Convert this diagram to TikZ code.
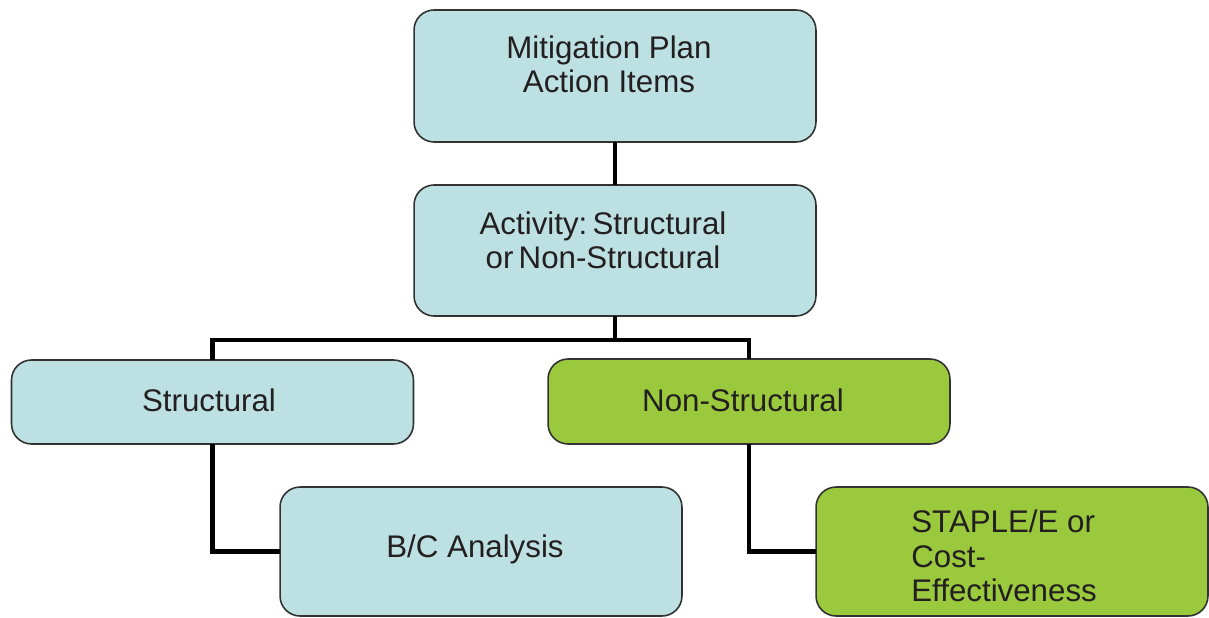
\documentclass[tikz,border=0pt]{standalone}
\usepackage{fontspec}
\setmainfont{Liberation Sans}
\usepackage{tikz}
\usetikzlibrary{positioning, calc}

\definecolor{paleblue}{RGB}{189,224,227}
\definecolor{leafgreen}{RGB}{154,201,61}
\definecolor{edgegray}{RGB}{50,50,50}
\definecolor{inkblack}{RGB}{35,31,32}

\begin{document}
\begin{tikzpicture}[
    x=0.02cm, y=-0.02cm,
    box/.style={draw=edgegray, line width=0.9pt, rounded corners=0.4cm,
        minimum width=8.04cm, inner sep=0pt, outer sep=0pt},
    bluebox/.style={box, fill=paleblue},
    greenbox/.style={box, fill=leafgreen},
    boxtext/.style={text=inkblack, font=\fontsize{17.8pt}{19.5pt}\selectfont, inner sep=0pt},
    link/.style={line width=2.3pt, black}
]
    \useasboundingbox (0,0) rectangle (1209,618);

    % === Top levels ===
    \node[bluebox, minimum height=2.64cm] (plan) at (615,76) {};
    \node[boxtext, align=center] (plantext) at (609,64) {Mitigation Plan\\Action Items};

    \node[bluebox, minimum height=2.62cm] (activity) at (615,250.5) {};
    \node[boxtext, align=center] (activitytext) at (603,240) {Activity:\,Structural\\ or\,Non-Structural};

    % === Branches ===
    \node[bluebox, minimum height=1.68cm] (struct) at (212.5,402) {};
    \node[boxtext] (structtext) at (209,400) {Structural};
    \node[greenbox, minimum height=1.7cm] (nonstruct) at (749,401.5) {};
    \node[boxtext] (nonstructtext) at (743,400) {Non-Structural};

    \node[bluebox, minimum height=2.58cm] (bc) at (481,551.5) {};
    \node[boxtext] (bctext) at (475,549) {B/C Analysis};
    \node[greenbox, minimum width=7.84cm, minimum height=2.58cm] (staple) at (1012,551.5) {};
    \node[boxtext, align=left, anchor=west] (stapletext) at (911,556) {STAPLE/E or\\Cost-\\Effectiveness};

    % === Connectors ===
    \coordinate (split) at (615,340);
    \draw[link] (plan) -- (activity);
    \draw[link] (activity) -- (split);
    \draw[link] (struct.north) |- (split) -| (nonstruct.north);
    \draw[link] (struct.south) |- (bc.west);
    \draw[link] (nonstruct.south) |- (staple.west);

\end{tikzpicture}
\end{document}
